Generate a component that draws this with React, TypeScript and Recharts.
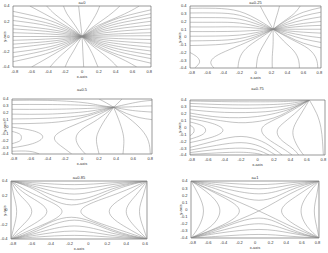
import React from 'react';
import { LineChart, Line, XAxis, YAxis, ReferenceArea } from 'recharts';

type Pt = [number, number];

// contour lines, one list of [x, y] points per line
const curvesA0: Pt[][] = [
  [[-0.82, 0.33], [-0.5, 0.25], [-0.25, 0.15], [0, 0]],
  [[-0.82, 0.27], [-0.5, 0.2], [-0.25, 0.12], [0, 0]],
  [[-0.82, 0.21], [-0.5, 0.16], [-0.25, 0.095], [0, 0]],
  [[-0.82, 0.15], [-0.5, 0.11], [-0.25, 0.068], [0, 0]],
  [[-0.82, 0.1], [-0.5, 0.075], [-0.25, 0.045], [0, 0]],
  [[-0.82, 0.05], [-0.5, 0.038], [-0.25, 0.022], [0, 0]],
  [[-0.82, 0], [-0.4, 0], [0, 0]],
  [[-0.82, -0.05], [-0.5, -0.038], [-0.25, -0.022], [0, 0]],
  [[-0.82, -0.1], [-0.5, -0.075], [-0.25, -0.045], [0, 0]],
  [[-0.82, -0.15], [-0.5, -0.11], [-0.25, -0.068], [0, 0]],
  [[-0.82, -0.21], [-0.5, -0.16], [-0.25, -0.095], [0, 0]],
  [[-0.82, -0.27], [-0.5, -0.2], [-0.25, -0.12], [0, 0]],
  [[-0.82, -0.33], [-0.5, -0.25], [-0.25, -0.15], [0, 0]],
  [[-0.62, 0.4], [-0.45, 0.3], [-0.27, 0.19], [-0.12, 0.09], [0, 0]],
  [[-0.42, 0.4], [-0.32, 0.29], [-0.19, 0.18], [-0.08, 0.08], [0, 0]],
  [[-0.22, 0.4], [-0.18, 0.3], [-0.11, 0.19], [-0.05, 0.09], [0, 0]],
  [[-0.04, 0.4], [-0.02, 0.2], [0, 0], [0.01, -0.2], [0.02, -0.4]],
  [[-0.6, -0.4], [-0.44, -0.3], [-0.27, -0.19], [-0.12, -0.09], [0, 0]],
  [[-0.38, -0.4], [-0.29, -0.29], [-0.18, -0.18], [-0.08, -0.08], [0, 0]],
  [[-0.2, -0.4], [-0.16, -0.3], [-0.1, -0.19], [-0.05, -0.09], [0, 0]],
  [[0, 0], [0.25, 0.158], [0.5, 0.263], [0.82, 0.35]],
  [[0, 0], [0.25, 0.135], [0.5, 0.225], [0.82, 0.3]],
  [[0, 0], [0.25, 0.113], [0.5, 0.188], [0.82, 0.25]],
  [[0, 0], [0.25, 0.09], [0.5, 0.15], [0.82, 0.2]],
  [[0, 0], [0.25, 0.068], [0.5, 0.113], [0.82, 0.15]],
  [[0, 0], [0.25, 0.045], [0.5, 0.075], [0.82, 0.1]],
  [[0, 0], [0.25, 0.023], [0.5, 0.038], [0.82, 0.05]],
  [[0, 0], [0.25, 0.005], [0.5, 0.008], [0.82, 0.01]],
  [[0, 0], [0.25, -0.018], [0.5, -0.03], [0.82, -0.04]],
  [[0, 0], [0.25, -0.04], [0.5, -0.068], [0.82, -0.09]],
  [[0, 0], [0.25, -0.063], [0.5, -0.105], [0.82, -0.14]],
  [[0, 0], [0.25, -0.086], [0.5, -0.143], [0.82, -0.19]],
  [[0, 0], [0.25, -0.108], [0.5, -0.18], [0.82, -0.24]],
  [[0, 0], [0.25, -0.13], [0.5, -0.218], [0.82, -0.29]],
  [[0, 0], [0.25, -0.158], [0.5, -0.263], [0.82, -0.35]],
  [[0, 0], [0.06, 0.1], [0.13, 0.22], [0.18, 0.32], [0.21, 0.4]],
  [[0, 0], [0.1, 0.1], [0.25, 0.22], [0.37, 0.32], [0.45, 0.4]],
  [[0, 0], [0.15, 0.12], [0.35, 0.22], [0.55, 0.32], [0.68, 0.4]],
  [[0, 0], [0.06, -0.1], [0.12, -0.22], [0.16, -0.32], [0.19, -0.4]],
  [[0, 0], [0.1, -0.1], [0.24, -0.22], [0.35, -0.32], [0.42, -0.4]],
  [[0, 0], [0.15, -0.12], [0.33, -0.22], [0.52, -0.32], [0.65, -0.4]],
];

const curvesA25: Pt[][] = [
  [[-0.82, 0.37], [-0.5, 0.37], [-0.2, 0.33], [0.05, 0.21], [0.22, 0.1]],
  [[-0.82, 0.31], [-0.5, 0.31], [-0.2, 0.28], [0.05, 0.18], [0.22, 0.1]],
  [[-0.82, 0.25], [-0.5, 0.25], [-0.2, 0.23], [0.05, 0.155], [0.22, 0.1]],
  [[-0.82, 0.19], [-0.5, 0.19], [-0.2, 0.18], [0.05, 0.13], [0.22, 0.1]],
  [[-0.82, 0.13], [-0.5, 0.13], [-0.2, 0.13], [0.05, 0.11], [0.22, 0.1]],
  [[-0.82, 0.07], [-0.5, 0.07], [-0.2, 0.075], [0.05, 0.088], [0.22, 0.1]],
  [[-0.82, 0.01], [-0.5, 0.012], [-0.2, 0.025], [0.05, 0.065], [0.22, 0.1]],
  [[-0.82, -0.05], [-0.5, -0.045], [-0.2, -0.02], [0.05, 0.045], [0.22, 0.1]],
  [[-0.82, -0.11], [-0.5, -0.1], [-0.2, -0.06], [0.05, 0.025], [0.22, 0.1]],
  [[-0.82, -0.2], [-0.74, -0.25], [-0.7, -0.31], [-0.72, -0.36], [-0.76, -0.4]],
  [[-0.52, -0.4], [-0.56, -0.33], [-0.5, -0.25], [-0.32, -0.16], [-0.05, -0.04], [0.22, 0.1]],
  [[0.06, 0.4], [0.11, 0.3], [0.17, 0.19], [0.22, 0.1]],
  [[0.22, 0.1], [0.25, 0.22], [0.28, 0.32], [0.3, 0.4]],
  [[0.22, 0.1], [0.35, 0.2], [0.48, 0.3], [0.56, 0.4]],
  [[0.22, 0.1], [0.4, 0.22], [0.6, 0.32], [0.82, 0.38]],
  [[0.22, 0.1], [0.4, 0.19], [0.6, 0.27], [0.82, 0.32]],
  [[0.22, 0.1], [0.4, 0.165], [0.6, 0.22], [0.82, 0.26]],
  [[0.22, 0.1], [0.4, 0.14], [0.6, 0.175], [0.82, 0.2]],
  [[0.22, 0.1], [0.4, 0.12], [0.6, 0.14], [0.82, 0.15]],
  [[0.22, 0.1], [0.4, 0.1], [0.6, 0.1], [0.82, 0.1]],
  [[0.22, 0.1], [0.4, 0.08], [0.6, 0.062], [0.82, 0.05]],
  [[0.22, 0.1], [0.4, 0.06], [0.6, 0.02], [0.82, -0.01]],
  [[0.22, 0.1], [0.4, 0.035], [0.6, -0.025], [0.82, -0.07]],
  [[0.22, 0.1], [0.4, 0.01], [0.6, -0.08], [0.82, -0.14]],
  [[0.22, 0.1], [0.45, -0.03], [0.66, -0.15], [0.76, -0.28], [0.78, -0.4]],
  [[0.22, 0.1], [0.35, -0.05], [0.48, -0.18], [0.54, -0.3], [0.55, -0.4]],
  [[0.22, 0.1], [0.22, -0.1], [0.21, -0.25], [0.21, -0.4]],
  [[0.22, 0.1], [0.13, -0.05], [0.05, -0.2], [0.02, -0.3], [0.01, -0.4]],
  [[0.22, 0.1], [0.05, -0.02], [-0.12, -0.15], [-0.2, -0.28], [-0.22, -0.4]],
];

const curvesA50: Pt[][] = [
  [[-0.82, 0.38], [-0.4, 0.38], [0, 0.35], [0.2, 0.31], [0.37, 0.28]],
  [[-0.82, 0.32], [-0.4, 0.32], [0, 0.31], [0.2, 0.295], [0.37, 0.28]],
  [[-0.82, 0.25], [-0.4, 0.25], [0, 0.26], [0.2, 0.27], [0.37, 0.28]],
  [[-0.82, 0.18], [-0.4, 0.18], [0, 0.21], [0.2, 0.245], [0.37, 0.28]],
  [[-0.82, 0.11], [-0.4, 0.12], [0, 0.16], [0.2, 0.225], [0.37, 0.28]],
  [[-0.82, 0.04], [-0.45, 0.05], [-0.1, 0.1], [0.2, 0.205], [0.37, 0.28]],
  [[-0.82, -0.01], [-0.58, -0.06], [-0.46, -0.15], [-0.58, -0.25], [-0.82, -0.31]],
  [[-0.82, -0.07], [-0.73, -0.11], [-0.71, -0.16], [-0.73, -0.21], [-0.82, -0.25]],
  [[-0.82, -0.36], [-0.62, -0.36], [-0.5, -0.4]],
  [[0.37, 0.28], [0.1, 0.12], [-0.15, -0.01], [-0.32, -0.15], [-0.25, -0.28], [-0.12, -0.4]],
  [[0.37, 0.28], [0.18, 0.1], [0, -0.04], [-0.07, -0.17], [-0.03, -0.3], [0.04, -0.4]],
  [[0.37, 0.28], [0.27, 0.1], [0.19, -0.08], [0.17, -0.22], [0.2, -0.4]],
  [[0.37, 0.28], [0.43, 0.1], [0.48, -0.1], [0.49, -0.25], [0.48, -0.4]],
  [[0.37, 0.28], [0.55, 0.12], [0.7, -0.05], [0.78, -0.22], [0.8, -0.4]],
  [[0.37, 0.28], [0.55, 0.33], [0.7, 0.365], [0.82, 0.38]],
  [[0.37, 0.28], [0.55, 0.285], [0.7, 0.295], [0.82, 0.3]],
  [[0.37, 0.28], [0.55, 0.24], [0.7, 0.22], [0.82, 0.21]],
  [[0.37, 0.28], [0.52, 0.19], [0.67, 0.13], [0.82, 0.1]],
  [[0.37, 0.28], [0.42, 0.34], [0.47, 0.4]],
  [[0.37, 0.28], [0.29, 0.34], [0.2, 0.4]],
];

const curvesA75: Pt[][] = [
  [[-0.82, 0.385], [-0.3, 0.375], [0.2, 0.375], [0.45, 0.385], [0.63, 0.4]],
  [[-0.82, 0.35], [-0.3, 0.33], [0.2, 0.335], [0.45, 0.36], [0.63, 0.4]],
  [[-0.82, 0.31], [-0.3, 0.28], [0.15, 0.29], [0.45, 0.335], [0.63, 0.4]],
  [[-0.82, 0.26], [-0.4, 0.22], [0.1, 0.23], [0.42, 0.3], [0.63, 0.4]],
  [[-0.82, 0.21], [-0.45, 0.15], [0, 0.16], [0.4, 0.27], [0.63, 0.4]],
  [[-0.82, 0.17], [-0.45, 0.1], [-0.15, 0.07], [0.2, 0.14], [0.45, 0.29], [0.63, 0.4]],
  [[-0.82, 0.13], [-0.55, 0.06], [-0.42, -0.04], [-0.55, -0.14], [-0.82, -0.22]],
  [[-0.82, 0.08], [-0.68, 0.03], [-0.63, -0.04], [-0.68, -0.11], [-0.82, -0.17]],
  [[-0.82, 0.03], [-0.78, 0], [-0.77, -0.04], [-0.78, -0.08], [-0.82, -0.12]],
  [[0.63, 0.4], [0.35, 0.2], [0.12, 0.06], [0.05, -0.04], [0.12, -0.16], [0.3, -0.3], [0.42, -0.4]],
  [[0.63, 0.4], [0.45, 0.2], [0.3, 0.05], [0.24, -0.05], [0.28, -0.17], [0.42, -0.3], [0.5, -0.4]],
  [[0.63, 0.4], [0.52, 0.18], [0.44, 0], [0.44, -0.15], [0.5, -0.3], [0.56, -0.4]],
  [[0.63, 0.4], [0.72, 0.2], [0.77, 0], [0.79, -0.2], [0.8, -0.4]],
  [[-0.82, -0.29], [-0.5, -0.19], [-0.2, -0.13], [0.05, -0.2], [0.2, -0.31], [0.3, -0.4]],
  [[-0.82, -0.33], [-0.5, -0.26], [-0.2, -0.22], [0.02, -0.27], [0.15, -0.35], [0.22, -0.4]],
  [[-0.82, -0.365], [-0.5, -0.32], [-0.2, -0.3], [0, -0.33], [0.14, -0.4]],
  [[-0.82, -0.39], [-0.5, -0.37], [-0.2, -0.36], [0, -0.38], [0.06, -0.4]],
];

const curvesA85: Pt[][] = [
  [[-0.82, 0.4], [-0.55, 0.373], [-0.15, 0.35], [0.25, 0.375], [0.62, 0.4]],
  [[-0.82, 0.4], [-0.55, 0.346], [-0.15, 0.29], [0.25, 0.35], [0.62, 0.4]],
  [[-0.82, 0.4], [-0.55, 0.319], [-0.15, 0.22], [0.25, 0.32], [0.62, 0.4]],
  [[-0.82, 0.4], [-0.55, 0.292], [-0.15, 0.14], [0.25, 0.29], [0.62, 0.4]],
  [[-0.82, 0.4], [-0.55, 0.265], [-0.18, 0.07], [0.25, 0.26], [0.62, 0.4]],
  [[-0.82, 0.4], [-0.55, 0.2], [-0.28, -0.02], [-0.55, -0.24], [-0.82, -0.4]],
  [[-0.82, 0.4], [-0.64, 0.2], [-0.44, -0.02], [-0.64, -0.24], [-0.82, -0.4]],
  [[-0.82, 0.4], [-0.72, 0.2], [-0.6, -0.02], [-0.72, -0.24], [-0.82, -0.4]],
  [[-0.82, 0.4], [-0.79, 0.2], [-0.76, -0.02], [-0.79, -0.24], [-0.82, -0.4]],
  [[0.62, 0.4], [0.25, 0.2], [-0.08, -0.02], [0.25, -0.24], [0.62, -0.4]],
  [[0.62, 0.4], [0.4, 0.2], [0.22, -0.02], [0.4, -0.24], [0.62, -0.4]],
  [[0.62, 0.4], [0.5, 0.2], [0.4, -0.02], [0.5, -0.24], [0.62, -0.4]],
  [[0.62, 0.4], [0.58, 0.2], [0.54, -0.02], [0.58, -0.24], [0.62, -0.4]],
  [[-0.82, -0.4], [-0.55, -0.373], [-0.15, -0.35], [0.25, -0.375], [0.62, -0.4]],
  [[-0.82, -0.4], [-0.55, -0.346], [-0.15, -0.29], [0.25, -0.35], [0.62, -0.4]],
  [[-0.82, -0.4], [-0.55, -0.319], [-0.15, -0.22], [0.25, -0.32], [0.62, -0.4]],
  [[-0.82, -0.4], [-0.55, -0.292], [-0.15, -0.14], [0.25, -0.29], [0.62, -0.4]],
  [[-0.82, -0.4], [-0.55, -0.265], [-0.18, -0.1], [0.25, -0.27], [0.62, -0.4]],
];

const curvesA100: Pt[][] = [
  [[-0.82, 0.4], [-0.45, 0.375], [0.05, 0.35], [0.45, 0.375], [0.82, 0.4]],
  [[-0.82, 0.4], [-0.45, 0.345], [0.05, 0.29], [0.45, 0.345], [0.82, 0.4]],
  [[-0.82, 0.4], [-0.45, 0.31], [0.05, 0.22], [0.45, 0.31], [0.82, 0.4]],
  [[-0.82, 0.4], [-0.45, 0.27], [0.05, 0.13], [0.45, 0.27], [0.82, 0.4]],
  [[-0.82, 0.4], [-0.72, 0.2], [-0.66, -0.02], [-0.72, -0.24], [-0.82, -0.4]],
  [[-0.82, 0.4], [-0.57, 0.2], [-0.45, -0.02], [-0.57, -0.24], [-0.82, -0.4]],
  [[-0.82, 0.4], [-0.42, 0.18], [-0.2, -0.02], [-0.42, -0.22], [-0.82, -0.4]],
  [[0.82, 0.4], [0.79, 0.2], [0.76, -0.02], [0.79, -0.24], [0.82, -0.4]],
  [[0.82, 0.4], [0.67, 0.2], [0.59, -0.02], [0.67, -0.24], [0.82, -0.4]],
  [[0.82, 0.4], [0.52, 0.18], [0.34, -0.02], [0.52, -0.22], [0.82, -0.4]],
  [[-0.82, -0.4], [-0.45, -0.375], [0.05, -0.35], [0.45, -0.375], [0.82, -0.4]],
  [[-0.82, -0.4], [-0.45, -0.33], [0.05, -0.28], [0.45, -0.33], [0.82, -0.4]],
  [[-0.82, -0.4], [-0.45, -0.3], [0.05, -0.2], [0.45, -0.3], [0.82, -0.4]],
  [[-0.82, -0.4], [-0.45, -0.27], [0.05, -0.12], [0.45, -0.27], [0.82, -0.4]],
  [[-0.82, 0.4], [-0.45, 0.22], [0.05, -0.02], [0.45, -0.23], [0.82, -0.4]],
  [[-0.82, -0.4], [-0.45, -0.25], [0.05, -0.02], [0.45, 0.22], [0.82, 0.4]],
];

const titles = ['a=0', 'a=0.25', 'a=0.5', 'a=0.75', 'a=0.85', 'a=1'];
const xTicksFull = [-0.8, -0.6, -0.4, -0.2, 0, 0.2, 0.4, 0.6, 0.8];
const xTicksShort = [-0.8, -0.6, -0.4, -0.2, 0, 0.2, 0.4, 0.6];
const yTicksCoarse = [-0.4, -0.2, 0, 0.2, 0.4];
const yTicksFine = [-0.4, -0.3, -0.2, -0.1, 0, 0.1, 0.2, 0.3, 0.4];

// page placement of each plot frame
const panels = [
  { title: titles[0], curves: curvesA0, box: { x: 13, y: 6, w: 138, h: 61 }, titleY: 2, xDomain: [-0.82, 0.82], xTicks: xTicksFull, yTicks: yTicksCoarse },
  { title: titles[1], curves: curvesA25, box: { x: 190, y: 6, w: 131, h: 62 }, titleY: 2, xDomain: [-0.82, 0.82], xTicks: xTicksFull, yTicks: yTicksFine },
  { title: titles[2], curves: curvesA50, box: { x: 12, y: 99, w: 140, h: 55 }, titleY: 89, xDomain: [-0.82, 0.82], xTicks: xTicksFull, yTicks: yTicksFine },
  { title: titles[3], curves: curvesA75, box: { x: 190, y: 100, w: 135, h: 55 }, titleY: 88, xDomain: [-0.82, 0.82], xTicks: xTicksFull, yTicks: yTicksFine },
  { title: titles[4], curves: curvesA85, box: { x: 11, y: 181, w: 136, h: 58 }, titleY: 177, xDomain: [-0.82, 0.62], xTicks: xTicksShort, yTicks: yTicksCoarse },
  { title: titles[5], curves: curvesA100, box: { x: 191, y: 181, w: 128, h: 57 }, titleY: 177, xDomain: [-0.82, 0.82], xTicks: xTicksFull, yTicks: yTicksFine },
];

const FS = 4;
const tickStyle = { fontSize: FS, fill: '#333' };
const textStyle: React.CSSProperties = {
  position: 'absolute',
  fontSize: FS,
  lineHeight: '5px',
  color: '#333',
  textAlign: 'center',
  whiteSpace: 'nowrap',
};

const ContourPanel = ({ p }: { p: typeof panels[number] }) => {
  const { box } = p;
  const padL = 12;
  const padR = 2;
  const padT = 2;
  const axisH = 8;
  // rotated axis title, kept clear of the page's left edge
  const yLabelCx = Math.max(box.x - 11, 3.5);
  return (
    <>
      <div style={{ position: 'absolute', left: box.x - padL, top: box.y - padT }}>
        <LineChart
          width={box.w + padL + padR}
          height={box.h + padT + axisH}
          margin={{ top: padT, right: padR, bottom: 0, left: 0 }}
        >
          <XAxis
            type="number"
            dataKey="x"
            domain={p.xDomain}
            ticks={p.xTicks}
            interval={0}
            allowDataOverflow
            height={axisH}
            axisLine={false}
            tickLine={false}
            tickSize={1.5}
            tick={tickStyle}
          />
          <YAxis
            type="number"
            dataKey="y"
            domain={[-0.4, 0.4]}
            ticks={p.yTicks}
            interval={0}
            allowDataOverflow
            width={padL}
            axisLine={false}
            tickLine={false}
            tickSize={1.5}
            tick={tickStyle}
          />
          <ReferenceArea
            x1={p.xDomain[0]}
            x2={p.xDomain[1]}
            y1={-0.4}
            y2={0.4}
            fill="none"
            stroke="#555"
            strokeWidth={0.6}
          />
          {p.curves.map((c, i) => (
            <Line
              key={i}
              data={c.map(([x, y]) => ({ x, y }))}
              dataKey="y"
              type="natural"
              stroke="#888"
              strokeWidth={0.5}
              dot={false}
              activeDot={false}
              isAnimationActive={false}
            />
          ))}
        </LineChart>
      </div>
      <div style={{ ...textStyle, left: box.x, width: box.w, top: p.titleY - 2.5 }}>{p.title}</div>
      <div style={{ ...textStyle, left: box.x, width: box.w, top: box.y + box.h + 7 }}>x-axis</div>
      <div
        style={{
          ...textStyle,
          left: yLabelCx - 10,
          width: 20,
          top: box.y + box.h / 2 - 2.5,
          transform: 'rotate(-90deg)',
        }}
      >
        y-axis
      </div>
    </>
  );
};

export default function App() {
  return (
    <div
      style={{
        position: 'absolute',
        left: 0,
        top: 0,
        width: 328,
        height: 253,
        background: '#fff',
        fontFamily: '"Liberation Sans", Arial, sans-serif',
        overflow: 'hidden',
      }}
    >
      {panels.map((p, i) => (
        <ContourPanel key={i} p={p} />
      ))}
    </div>
  );
}
